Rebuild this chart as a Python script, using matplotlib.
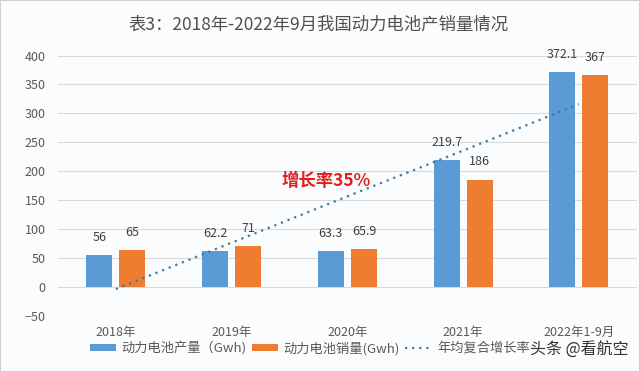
import matplotlib
matplotlib.use("Agg")
import matplotlib.pyplot as plt
import numpy as np
from matplotlib.patches import Rectangle

plt.rcParams["font.family"] = ["Noto Sans CJK SC", "DejaVu Sans"]

categories = ["2018年", "2019年", "2020年", "2021年", "2022年1-9月"]
production = [56, 62.2, 63.3, 219.7, 372.1]   # 动力电池产量 (Gwh)
sales = [65, 71, 65.9, 186, 367]               # 动力电池销量 (Gwh)
trend = [-3, 77, 157, 236, 316]                # 年均复合增长 trend line
prod_labels = ["56", "62.2", "63.3", "219.7", "372.1"]
sales_labels = ["65", "71", "65.9", "186", "367"]
y_ticks = [-50, 0, 50, 100, 150, 200, 250, 300, 350, 400]

blue = "#5B9BD5"
orange = "#ED7D31"
grid_c = "#D9D9D9"
text_c = "#595959"

fig = plt.figure(figsize=(6.4, 3.72), dpi=100, facecolor="#FBFCFE")
ax = fig.add_axes([0.0906, 0.1497, 0.9044, 0.7011])
ax.set_facecolor("#FBFCFE")

x = np.arange(len(categories))
w = 0.225
off = 0.143
b1 = ax.bar(x - off, production, w, color=blue, label="动力电池产量（Gwh)", zorder=2)
b2 = ax.bar(x + off, sales, w, color=orange, label="动力电池销量(Gwh)", zorder=2)
ln, = ax.plot(x, trend, linestyle=(0, (1, 2.2)), color="#3F7A9E", linewidth=1.6,
              label="年均复合增长率", zorder=3)

for xi, v, s in zip(x - off, production, prod_labels):
    ax.annotate(s, (xi, v), xytext=(0, 8), textcoords="offset points",
                ha="center", va="bottom", fontsize=9, color="#404040")
for xi, v, s in zip(x + off, sales, sales_labels):
    ax.annotate(s, (xi, v), xytext=(0, 8), textcoords="offset points",
                ha="center", va="bottom", fontsize=9, color="#404040")

ax.text(1.82, 183, "增长率35%", color="#E02020", fontsize=12.5,
        fontweight="bold", ha="center", va="center", zorder=4)

ax.set_xlim(-0.5, len(categories) - 0.5)
ax.set_ylim(-50, 400)
ax.set_yticks(y_ticks)
ax.set_xticks(x)
ax.set_xticklabels(categories)
ax.tick_params(axis="both", length=0, labelsize=9, labelcolor=text_c)
ax.tick_params(axis="y", pad=9)
ax.tick_params(axis="x", pad=7)
ax.grid(axis="y", color=grid_c, linewidth=0.8, zorder=0)
for sp in ax.spines.values():
    sp.set_visible(False)

fig.text(0.497, 0.933, "表3：2018年-2022年9月我国动力电池产销量情况",
         ha="center", va="center", fontsize=12.5, color="#505050")

fig.legend(handles=[b1, b2, ln], loc="center left", bbox_to_anchor=(0.122, 0.064),
           ncol=3, frameon=False, fontsize=9.5, labelcolor=text_c,
           handlelength=2.0, handleheight=0.45, columnspacing=0.4,
           handletextpad=0.4)

fig.text(0.982, 0.058, "头条 @看航空", ha="right", va="center",
         fontsize=11.5, color="#333333")

fig.patches.append(Rectangle((0, 0), 1, 1, transform=fig.transFigure,
                             fill=False, edgecolor="#D0D0D0", linewidth=1.5))

fig.savefig("out.png", dpi=100, facecolor=fig.get_facecolor())
